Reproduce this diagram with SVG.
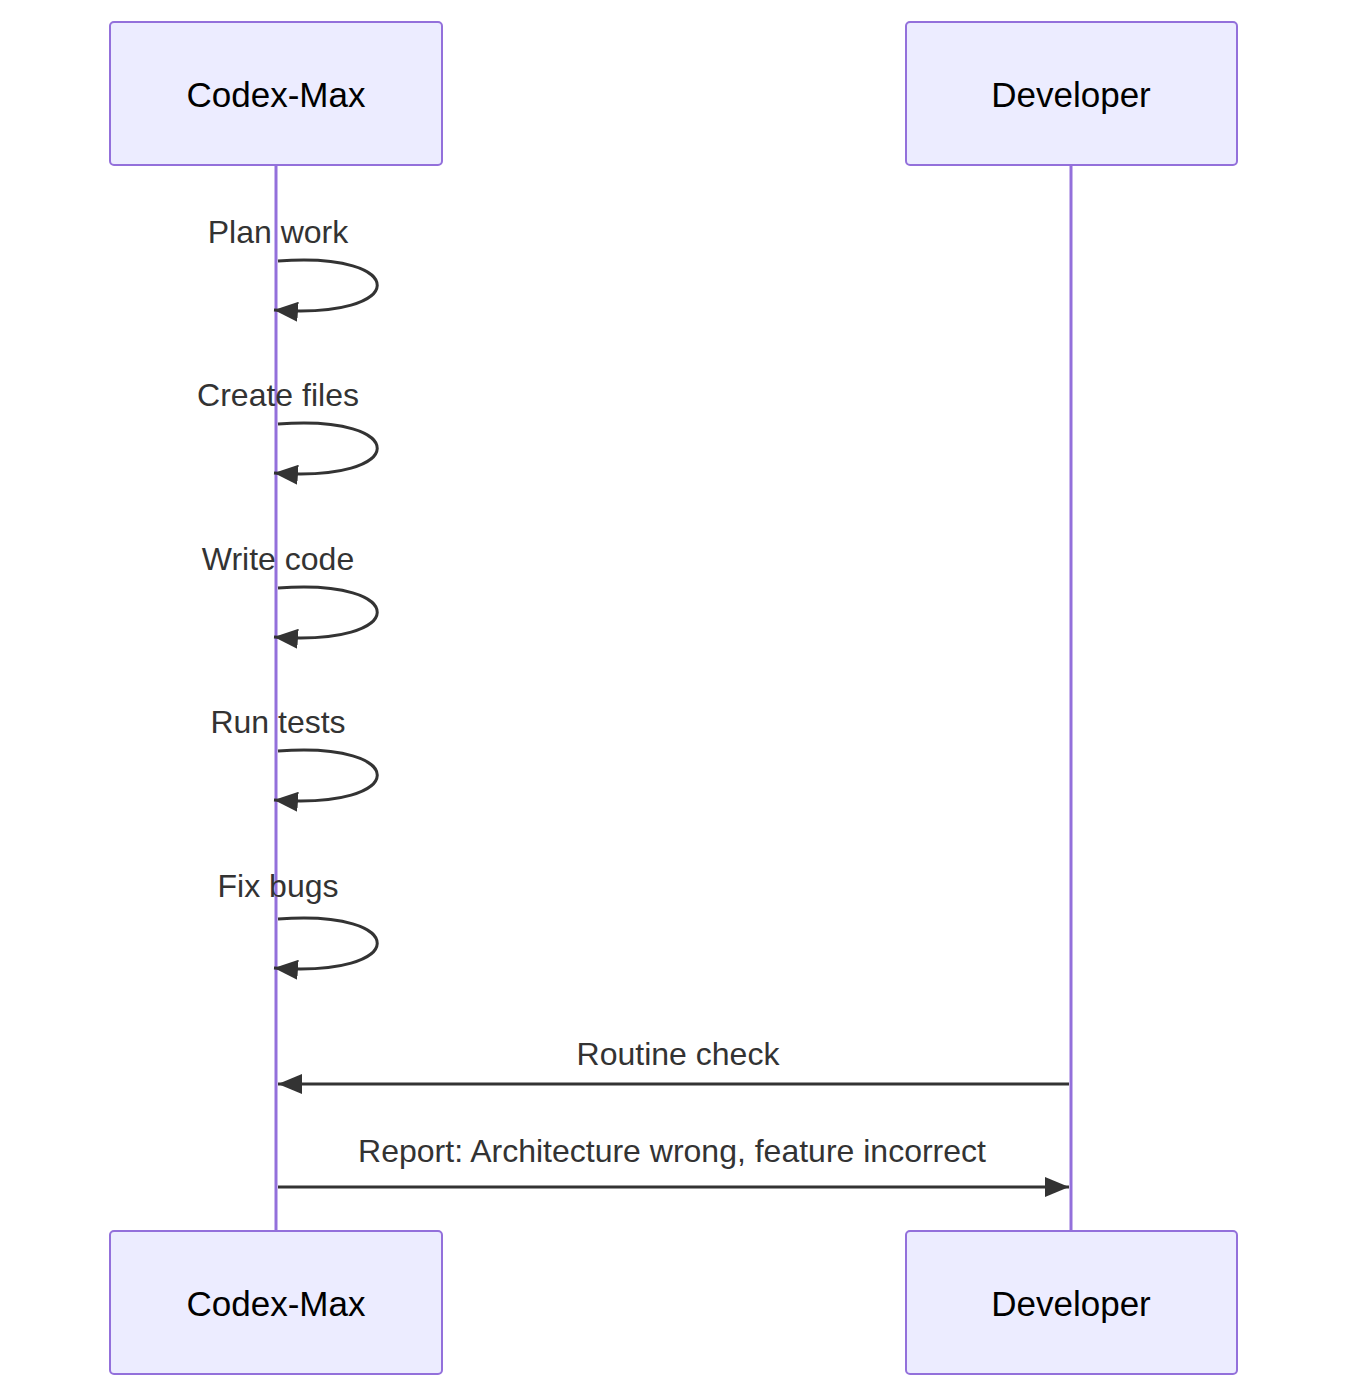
<svg xmlns="http://www.w3.org/2000/svg" width="1348" height="1399" viewBox="0 0 1348 1399">
<style>
.actor{fill:#ECECFF;stroke:#9370DB;stroke-width:2}
.at{font-family:"Liberation Sans",Arial,sans-serif;font-size:35px;fill:#000;text-anchor:middle}
.life{stroke:#9370DB;stroke-width:3}
.msg{fill:none;stroke:#333;stroke-width:3}
.mt{font-family:"Liberation Sans",Arial,sans-serif;font-size:32px;fill:#333;text-anchor:middle}
</style>
<defs>
<marker id="ah" viewBox="0 0 12 10" refX="12" refY="5" markerUnits="userSpaceOnUse" markerWidth="24" markerHeight="20" orient="auto">
<path d="M0,0 L12,5 L0,10 z" fill="#333"/>
</marker>
</defs>
<rect width="1348" height="1399" fill="#fff"/>
<g id="lifelines">
<line class="life" x1="276" y1="165" x2="276" y2="1231"/>
<line class="life" x1="1071" y1="165" x2="1071" y2="1231"/>
</g>
<g id="actor-codex-top"><rect class="actor" x="110" y="22" width="332" height="143" rx="4"/><text class="at" x="276" y="107">Codex-Max</text></g>
<g id="actor-dev-top"><rect class="actor" x="906" y="22" width="331" height="143" rx="4"/><text class="at" x="1071" y="107">Developer</text></g>
<g id="actor-codex-bottom"><rect class="actor" x="110" y="1231" width="332" height="143" rx="4"/><text class="at" x="276" y="1316">Codex-Max</text></g>
<g id="actor-dev-bottom"><rect class="actor" x="906" y="1231" width="331" height="143" rx="4"/><text class="at" x="1071" y="1316">Developer</text></g>
<g id="connectors">
<path class="msg" marker-end="url(#ah)" d="M278,261 C411,251 411,320 274,310"/>
<path class="msg" marker-end="url(#ah)" d="M278,424 C411,414 411,483 274,473"/>
<path class="msg" marker-end="url(#ah)" d="M278,588 C411,578 411,647 274,637"/>
<path class="msg" marker-end="url(#ah)" d="M278,751 C411,741 411,810 274,800"/>
<path class="msg" marker-end="url(#ah)" d="M278,919 C411,909 411,978 274,968"/>
<line class="msg" marker-end="url(#ah)" x1="1069" y1="1084" x2="278" y2="1084"/>
<line class="msg" marker-end="url(#ah)" x1="278" y1="1187" x2="1069" y2="1187"/>
</g>
<g id="labels">
<text class="mt" x="278" y="243">Plan work</text>
<text class="mt" x="278" y="406">Create files</text>
<text class="mt" x="278" y="570">Write code</text>
<text class="mt" x="278" y="733">Run tests</text>
<text class="mt" x="278" y="897">Fix bugs</text>
<text class="mt" x="678" y="1065">Routine check</text>
<text class="mt" x="672" y="1162">Report: Architecture wrong, feature incorrect</text>
</g>
</svg>
